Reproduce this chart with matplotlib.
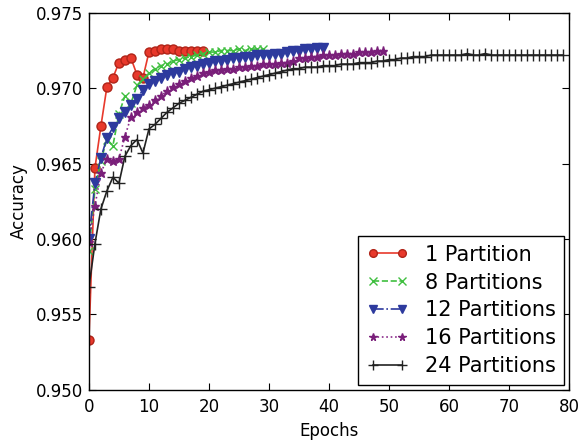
import matplotlib
matplotlib.use("Agg")
import matplotlib.pyplot as plt
import numpy as np

# validation accuracy per epoch for each partition count
acc_1 = [0.9533, 0.9647, 0.9675, 0.9701, 0.9707, 0.9717, 0.9719, 0.9720, 0.9709, 0.9707,
         0.9724, 0.9725, 0.9726, 0.9726, 0.9726, 0.9725, 0.9725, 0.9725, 0.9725, 0.9725]

acc_8 = [0.9592, 0.9633, 0.9652, 0.9666, 0.9662, 0.9683, 0.9695, 0.9690, 0.9702, 0.9706,
         0.9710, 0.9713, 0.9715, 0.9716, 0.9718, 0.9719, 0.9720, 0.9721, 0.9722, 0.9723,
         0.9724, 0.9724, 0.9725, 0.9725, 0.9725, 0.9726, 0.9725, 0.9726, 0.9726, 0.9726]

acc_12 = [0.9600, 0.9637, 0.9654, 0.9667, 0.9674, 0.9680, 0.9684, 0.9689, 0.9693, 0.9699,
          0.9703, 0.9705, 0.9707, 0.9709, 0.9710, 0.9711, 0.9713, 0.9714, 0.9715, 0.9716,
          0.9717, 0.9718, 0.9718, 0.9719, 0.9720, 0.9720, 0.9721, 0.9721, 0.9722, 0.9722,
          0.9722, 0.9723, 0.9723, 0.9724, 0.9725, 0.9725, 0.9726, 0.9726, 0.9727, 0.9727]

acc_16 = [0.9598, 0.9622, 0.9644, 0.9653, 0.9652, 0.9653, 0.9668, 0.9681, 0.9684, 0.9687,
          0.9689, 0.9692, 0.9695, 0.9698, 0.9701, 0.9703, 0.9705, 0.9707, 0.9708, 0.9710,
          0.9711, 0.9712, 0.9712, 0.9713, 0.9713, 0.9714, 0.9714, 0.9715, 0.9715, 0.9716,
          0.9716, 0.9716, 0.9717, 0.9717, 0.9718, 0.9720, 0.9720, 0.9721, 0.9721, 0.9722,
          0.9722, 0.9722, 0.9723, 0.9723, 0.9723, 0.9724, 0.9724, 0.9724, 0.9725, 0.9725]

acc_24 = [0.9568, 0.9597, 0.9620, 0.9632, 0.9641, 0.9637, 0.9655, 0.9662, 0.9666, 0.9657,
          0.9673, 0.9676, 0.9680, 0.9684, 0.9687, 0.9690, 0.9692, 0.9694, 0.9696, 0.9698,
          0.9699, 0.9700, 0.9701, 0.9702, 0.9703, 0.9704, 0.9705, 0.9706, 0.9707, 0.9708,
          0.9709, 0.9710, 0.9711, 0.9712, 0.9713, 0.9713, 0.9714, 0.9714, 0.9714, 0.9715,
          0.9715, 0.9715, 0.9716, 0.9716, 0.9716, 0.9717, 0.9717, 0.9717, 0.9718, 0.9718,
          0.9719, 0.9719, 0.9720, 0.9720, 0.9721, 0.9721, 0.9721, 0.9722, 0.9722, 0.9722,
          0.9722, 0.9722, 0.9722, 0.9723, 0.9722, 0.9722, 0.9723, 0.9722, 0.9722, 0.9722,
          0.9722, 0.9722, 0.9722, 0.9722, 0.9722, 0.9722, 0.9722, 0.9722, 0.9722, 0.9722]

labels = ["1 Partition", "8 Partitions", "12 Partitions", "16 Partitions", "24 Partitions"]
series = [acc_1, acc_8, acc_12, acc_16, acc_24]

styles = [
    dict(color="#e8392c", linestyle="-", marker="o", markersize=6.5,
         markerfacecolor="#e8392c", markeredgecolor="#b02418"),
    dict(color="#3fbf3f", linestyle="--", marker="x", markersize=6,
         markeredgecolor="#3fbf3f"),
    dict(color="#2d3a9e", linestyle="-.", marker="v", markersize=6.5,
         markerfacecolor="#2d3a9e", markeredgecolor="#2d3a9e"),
    dict(color="#8a2a8a", linestyle=":", marker="*", markersize=6.5,
         markerfacecolor="#7a1f7a", markeredgecolor="#7a1f7a"),
    dict(color="#222222", linestyle="-", marker="+", markersize=8,
         markeredgecolor="#222222"),
]

plt.rcParams["font.family"] = "DejaVu Sans"

fig = plt.figure(figsize=(5.85, 4.43), dpi=100, facecolor="white")
ax = fig.add_axes([0.152, 0.120, 0.821, 0.851])

for vals, lab, st in zip(series, labels, styles):
    ax.plot(np.arange(len(vals)), vals, label=lab, linewidth=1.2, **st)

yticks = np.arange(0.950, 0.9751, 0.005)
ax.set_xlim(0, 80)
ax.set_ylim(0.950, 0.975)
ax.set_xticks(np.arange(0, 81, 10))
ax.set_yticks(yticks)
ax.set_yticklabels([f"{v:.3f}" for v in yticks])
ax.tick_params(direction="in", top=True, right=True, labelsize=12, length=5)
ax.tick_params(axis="x", pad=6)
ax.tick_params(axis="y", pad=4)
for spine in ax.spines.values():
    spine.set_linewidth(1.0)
ax.set_xlabel("Epochs", fontsize=12, labelpad=4)
ax.set_ylabel("Accuracy", fontsize=12, labelpad=6)

leg = ax.legend(loc="lower right", numpoints=2, fontsize=15, fancybox=False,
                edgecolor="black", framealpha=1.0, handlelength=2.0,
                handletextpad=0.8, markerscale=0.85,
                borderaxespad=0.25, labelspacing=0.38, borderpad=0.4)
leg.get_frame().set_linewidth(1.0)

fig.savefig("out.png", dpi=100, facecolor="white")
